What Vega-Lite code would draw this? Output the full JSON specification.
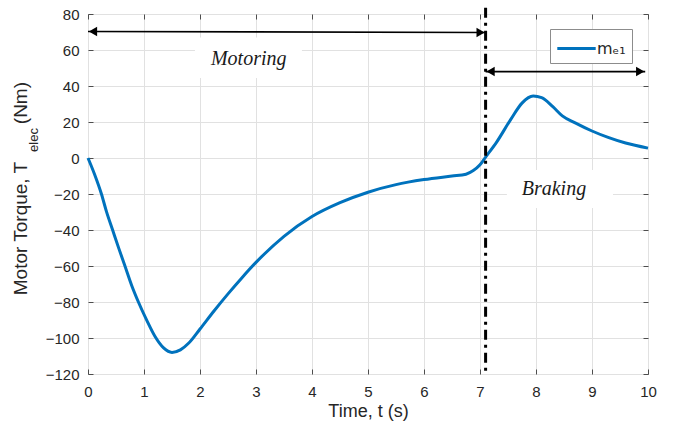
{
  "$schema": "https://vega.github.io/schema/vega-lite/v6.json",
  "width": 560,
  "height": 360,
  "autosize": {"type": "none"},
  "padding": {"left": 88, "top": 14, "right": 25, "bottom": 58},
  "background": "white",
  "config": {
    "view": {"stroke": "#4d4d4d", "strokeWidth": 1},
    "font": "Liberation Sans",
    "axis": {
      "labelFont": "Liberation Sans",
      "labelFontSize": 15,
      "labelColor": "#262626",
      "domain": false,
      "tickColor": "#4d4d4d",
      "gridColor": "#e1e1e1",
      "gridWidth": 1,
      "titleFont": "Liberation Sans",
      "titleFontWeight": "normal",
      "titleColor": "#262626"
    }
  },
  "datasets": {
    "torque": [
      {"t": 0, "v": 0, "series": "mₑ₁"},
      {"t": 0.12, "v": -9.3, "series": "mₑ₁"},
      {"t": 0.24, "v": -20, "series": "mₑ₁"},
      {"t": 0.33, "v": -29.8, "series": "mₑ₁"},
      {"t": 0.44, "v": -40, "series": "mₑ₁"},
      {"t": 0.55, "v": -50.2, "series": "mₑ₁"},
      {"t": 0.66, "v": -60, "series": "mₑ₁"},
      {"t": 0.78, "v": -70.8, "series": "mₑ₁"},
      {"t": 0.9, "v": -80, "series": "mₑ₁"},
      {"t": 1.05, "v": -90.2, "series": "mₑ₁"},
      {"t": 1.2, "v": -99.3, "series": "mₑ₁"},
      {"t": 1.35, "v": -105.5, "series": "mₑ₁"},
      {"t": 1.5, "v": -108, "series": "mₑ₁"},
      {"t": 1.65, "v": -106.6, "series": "mₑ₁"},
      {"t": 1.8, "v": -102.8, "series": "mₑ₁"},
      {"t": 2.0, "v": -95, "series": "mₑ₁"},
      {"t": 2.25, "v": -85, "series": "mₑ₁"},
      {"t": 2.5, "v": -75.5, "series": "mₑ₁"},
      {"t": 2.75, "v": -66.5, "series": "mₑ₁"},
      {"t": 3.0, "v": -58, "series": "mₑ₁"},
      {"t": 3.5, "v": -43.5, "series": "mₑ₁"},
      {"t": 4.0, "v": -32.5, "series": "mₑ₁"},
      {"t": 4.5, "v": -24.8, "series": "mₑ₁"},
      {"t": 5.0, "v": -19, "series": "mₑ₁"},
      {"t": 5.5, "v": -14.8, "series": "mₑ₁"},
      {"t": 6.0, "v": -12, "series": "mₑ₁"},
      {"t": 6.5, "v": -10, "series": "mₑ₁"},
      {"t": 6.75, "v": -9, "series": "mₑ₁"},
      {"t": 6.88, "v": -7, "series": "mₑ₁"},
      {"t": 7.0, "v": -3.8, "series": "mₑ₁"},
      {"t": 7.1, "v": 0.5, "series": "mₑ₁"},
      {"t": 7.3, "v": 9, "series": "mₑ₁"},
      {"t": 7.55, "v": 21.5, "series": "mₑ₁"},
      {"t": 7.75, "v": 30.5, "series": "mₑ₁"},
      {"t": 7.95, "v": 34.4, "series": "mₑ₁"},
      {"t": 8.1, "v": 33.5, "series": "mₑ₁"},
      {"t": 8.3, "v": 28.5, "series": "mₑ₁"},
      {"t": 8.47, "v": 23.4, "series": "mₑ₁"},
      {"t": 8.7, "v": 19.5, "series": "mₑ₁"},
      {"t": 9.0, "v": 15, "series": "mₑ₁"},
      {"t": 9.3, "v": 11.3, "series": "mₑ₁"},
      {"t": 9.6, "v": 8.3, "series": "mₑ₁"},
      {"t": 10, "v": 5.5, "series": "mₑ₁"}
    ],
    "boxes": [
      {"t": 1.91, "t2": 3.82, "v": 44.5, "v2": 67},
      {"t": 7.48, "t2": 9.375, "v": -27.8, "v2": -6.7}
    ],
    "labels": [
      {"t": 2.87, "v": 51.7, "label": "Motoring"},
      {"t": 8.32, "v": -20.6, "label": "Braking"}
    ],
    "shafts": [
      {"t": 0, "t2": 7.1, "v": 70.3, "v2": 69.7},
      {"t": 7.1, "t2": 9.95, "v": 48, "v2": 48}
    ],
    "headsLeft": [{"t": 0, "v": 70.3}, {"t": 7.1, "v": 48}],
    "headsRight": [{"t": 7.1, "v": 69.7}, {"t": 9.95, "v": 48}],
    "divider": [{"t": 7.1, "v": 83.5, "v2": -119}],
    "ytitle": [
      {"t": -1.19, "v": -39.2, "label": "Motor Torque, T"},
      {"t": -1.19, "v": 30.5, "label": "(Nm)"}
    ],
    "ysub": [{"t": -0.96, "v": 10, "label": "elec"}]
  },
  "encoding": {
    "x": {"field": "t", "type": "quantitative", "scale": {"domain": [0, 10], "nice": false, "zero": false}, "axis": null},
    "y": {"field": "v", "type": "quantitative", "scale": {"domain": [-120, 80], "nice": false, "zero": false}, "axis": null}
  },
  "layer": [
    {
      "data": {"name": "boxes"},
      "mark": {"type": "rect", "fill": "white", "stroke": null},
      "encoding": {
        "x": {"field": "t", "type": "quantitative", "scale": {"domain": [0, 10], "nice": false, "zero": false},
          "axis": {"orient": "top", "values": [0,1,2,3,4,5,6,7,8,9,10], "labels": false, "grid": false, "tickSize": -5, "title": null}},
        "x2": {"field": "t2"},
        "y": {"field": "v", "type": "quantitative", "scale": {"domain": [-120, 80], "nice": false, "zero": false},
          "axis": {"orient": "right", "values": [-120,-100,-80,-60,-40,-20,0,20,40,60,80], "labels": false, "grid": false, "tickSize": -5, "title": null}},
        "y2": {"field": "v2"}
      }
    },
    {
      "data": {"name": "labels"},
      "mark": {"type": "text", "font": "Liberation Serif", "fontStyle": "italic", "fontSize": 20, "color": "#1a1a1a", "align": "center", "baseline": "alphabetic"},
      "encoding": {"text": {"field": "label"}}
    },
    {
      "data": {"name": "shafts"},
      "mark": {"type": "rule", "color": "black", "strokeWidth": 1.6},
      "encoding": {"x2": {"field": "t2"}, "y2": {"field": "v2"}}
    },
    {
      "data": {"name": "headsLeft"},
      "mark": {"type": "point", "shape": "triangle-left", "filled": true, "color": "black", "size": 90, "opacity": 1, "xOffset": 5},
      "encoding": {}
    },
    {
      "data": {"name": "headsRight"},
      "mark": {"type": "point", "shape": "triangle-right", "filled": true, "color": "black", "size": 90, "opacity": 1, "xOffset": -5},
      "encoding": {}
    },
    {
      "data": {"name": "torque"},
      "mark": {"type": "line", "strokeWidth": 3, "interpolate": "monotone"},
      "encoding": {
        "x": {"field": "t", "type": "quantitative", "scale": {"domain": [0, 10], "nice": false, "zero": false},
          "axis": {"orient": "bottom", "values": [0,1,2,3,4,5,6,7,8,9,10], "grid": true, "tickSize": -5, "labelPadding": 15, "labelFlush": false, "title": "Time, t (s)", "titleFontSize": 18, "titlePadding": 3}},
        "y": {"field": "v", "type": "quantitative", "scale": {"domain": [-120, 80], "nice": false, "zero": false},
          "axis": {"orient": "left", "values": [-120,-100,-80,-60,-40,-20,0,20,40,60,80], "grid": true, "tickSize": -5, "labelPadding": 14, "labelFlush": false, "title": null}},
        "color": {"field": "series", "type": "nominal", "scale": {"range": ["#0072BD"]},
          "legend": {"orient": "none", "legendX": 462, "legendY": 15, "title": null, "symbolType": "M-1.6,0H1.6", "symbolSize": 576, "symbolStrokeWidth": 3, "symbolOffset": 7, "labelFontSize": 16, "labelColor": "#262626", "labelFont": "DejaVu Sans", "strokeColor": "#8c8c8c", "fillColor": "white", "padding": 6, "labelOffset": 7}}
      }
    },
    {
      "data": {"name": "divider"},
      "mark": {"type": "rule", "color": "black", "strokeWidth": 3, "strokeDash": [10, 5, 3, 5]},
      "encoding": {"y2": {"field": "v2"}}
    },
    {
      "data": {"name": "ytitle"},
      "mark": {"type": "text", "angle": 270, "fontSize": 19, "font": "Liberation Sans", "color": "#262626", "align": "center", "baseline": "middle"},
      "encoding": {"text": {"field": "label"}}
    },
    {
      "data": {"name": "ysub"},
      "mark": {"type": "text", "angle": 270, "fontSize": 13, "font": "Liberation Sans", "color": "#262626", "align": "center", "baseline": "middle"},
      "encoding": {"text": {"field": "label"}}
    }
  ],
  "resolve": {"axis": {"x": "independent", "y": "independent"}}
}
